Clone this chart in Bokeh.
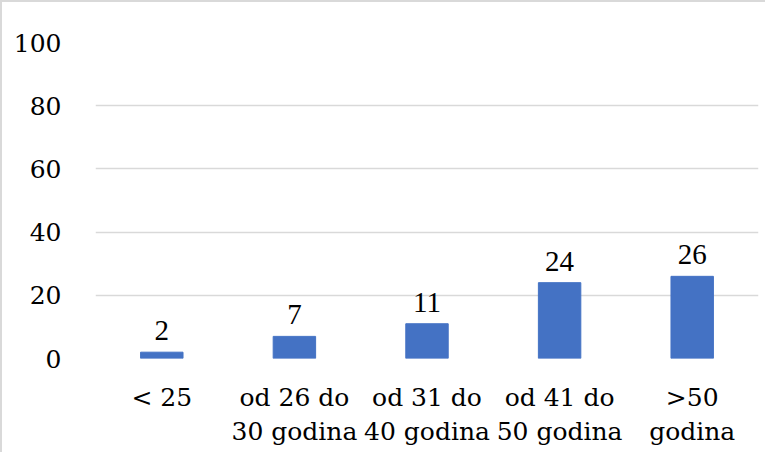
from bokeh.plotting import figure
from bokeh.models import ColumnDataSource, LabelSet, FixedTicker, Range1d
from bokeh.embed import file_html
from bokeh.resources import INLINE

categories = ["< 25", "od 26 do\n30 godina", "od 31 do\n40 godina", "od 41 do\n50 godina", ">50\ngodina"]
values = [2, 7, 11, 24, 26]
labels = [str(v) for v in values]
y_ticks = [0, 20, 40, 60, 80, 100]

src = ColumnDataSource(dict(cat=categories, val=values, lab=labels))

FONT = "DejaVu Serif"

p = figure(x_range=categories, y_range=Range1d(0, 100), width=765, height=452,
           output_backend="svg", toolbar_location=None,
           min_border_left=93, min_border_right=9, min_border_top=40, min_border_bottom=96)
p.styles = {"border-top": "2px solid #d9d9d9", "border-left": "2px solid #d9d9d9"}
p.outline_line_color = None
p.vbar(x="cat", top="val", width=0.32, source=src, color="#4472C4")

p.add_layout(LabelSet(x="cat", y="val", text="lab", source=src, text_align="center",
                      text_baseline="bottom", y_offset=12, text_font=FONT,
                      text_font_size="29px", text_color="#000000"))

p.yaxis.ticker = FixedTicker(ticks=y_ticks)
for ax in (p.xaxis, p.yaxis):
    ax.axis_line_color = None
    ax.major_tick_line_color = None
    ax.minor_tick_line_color = None
    ax.major_label_text_font = FONT
    ax.major_label_text_font_size = "25px"
    ax.major_label_text_color = "#000000"
p.yaxis.major_label_standoff = 28
p.xaxis.major_label_standoff = 18
p.xgrid.grid_line_color = None
p.ygrid.grid_line_color = "#d9d9d9"
p.ygrid.grid_line_width = 1.5
p.x_range.range_padding = 0

open("out.html", "w").write(file_html(p, INLINE))
